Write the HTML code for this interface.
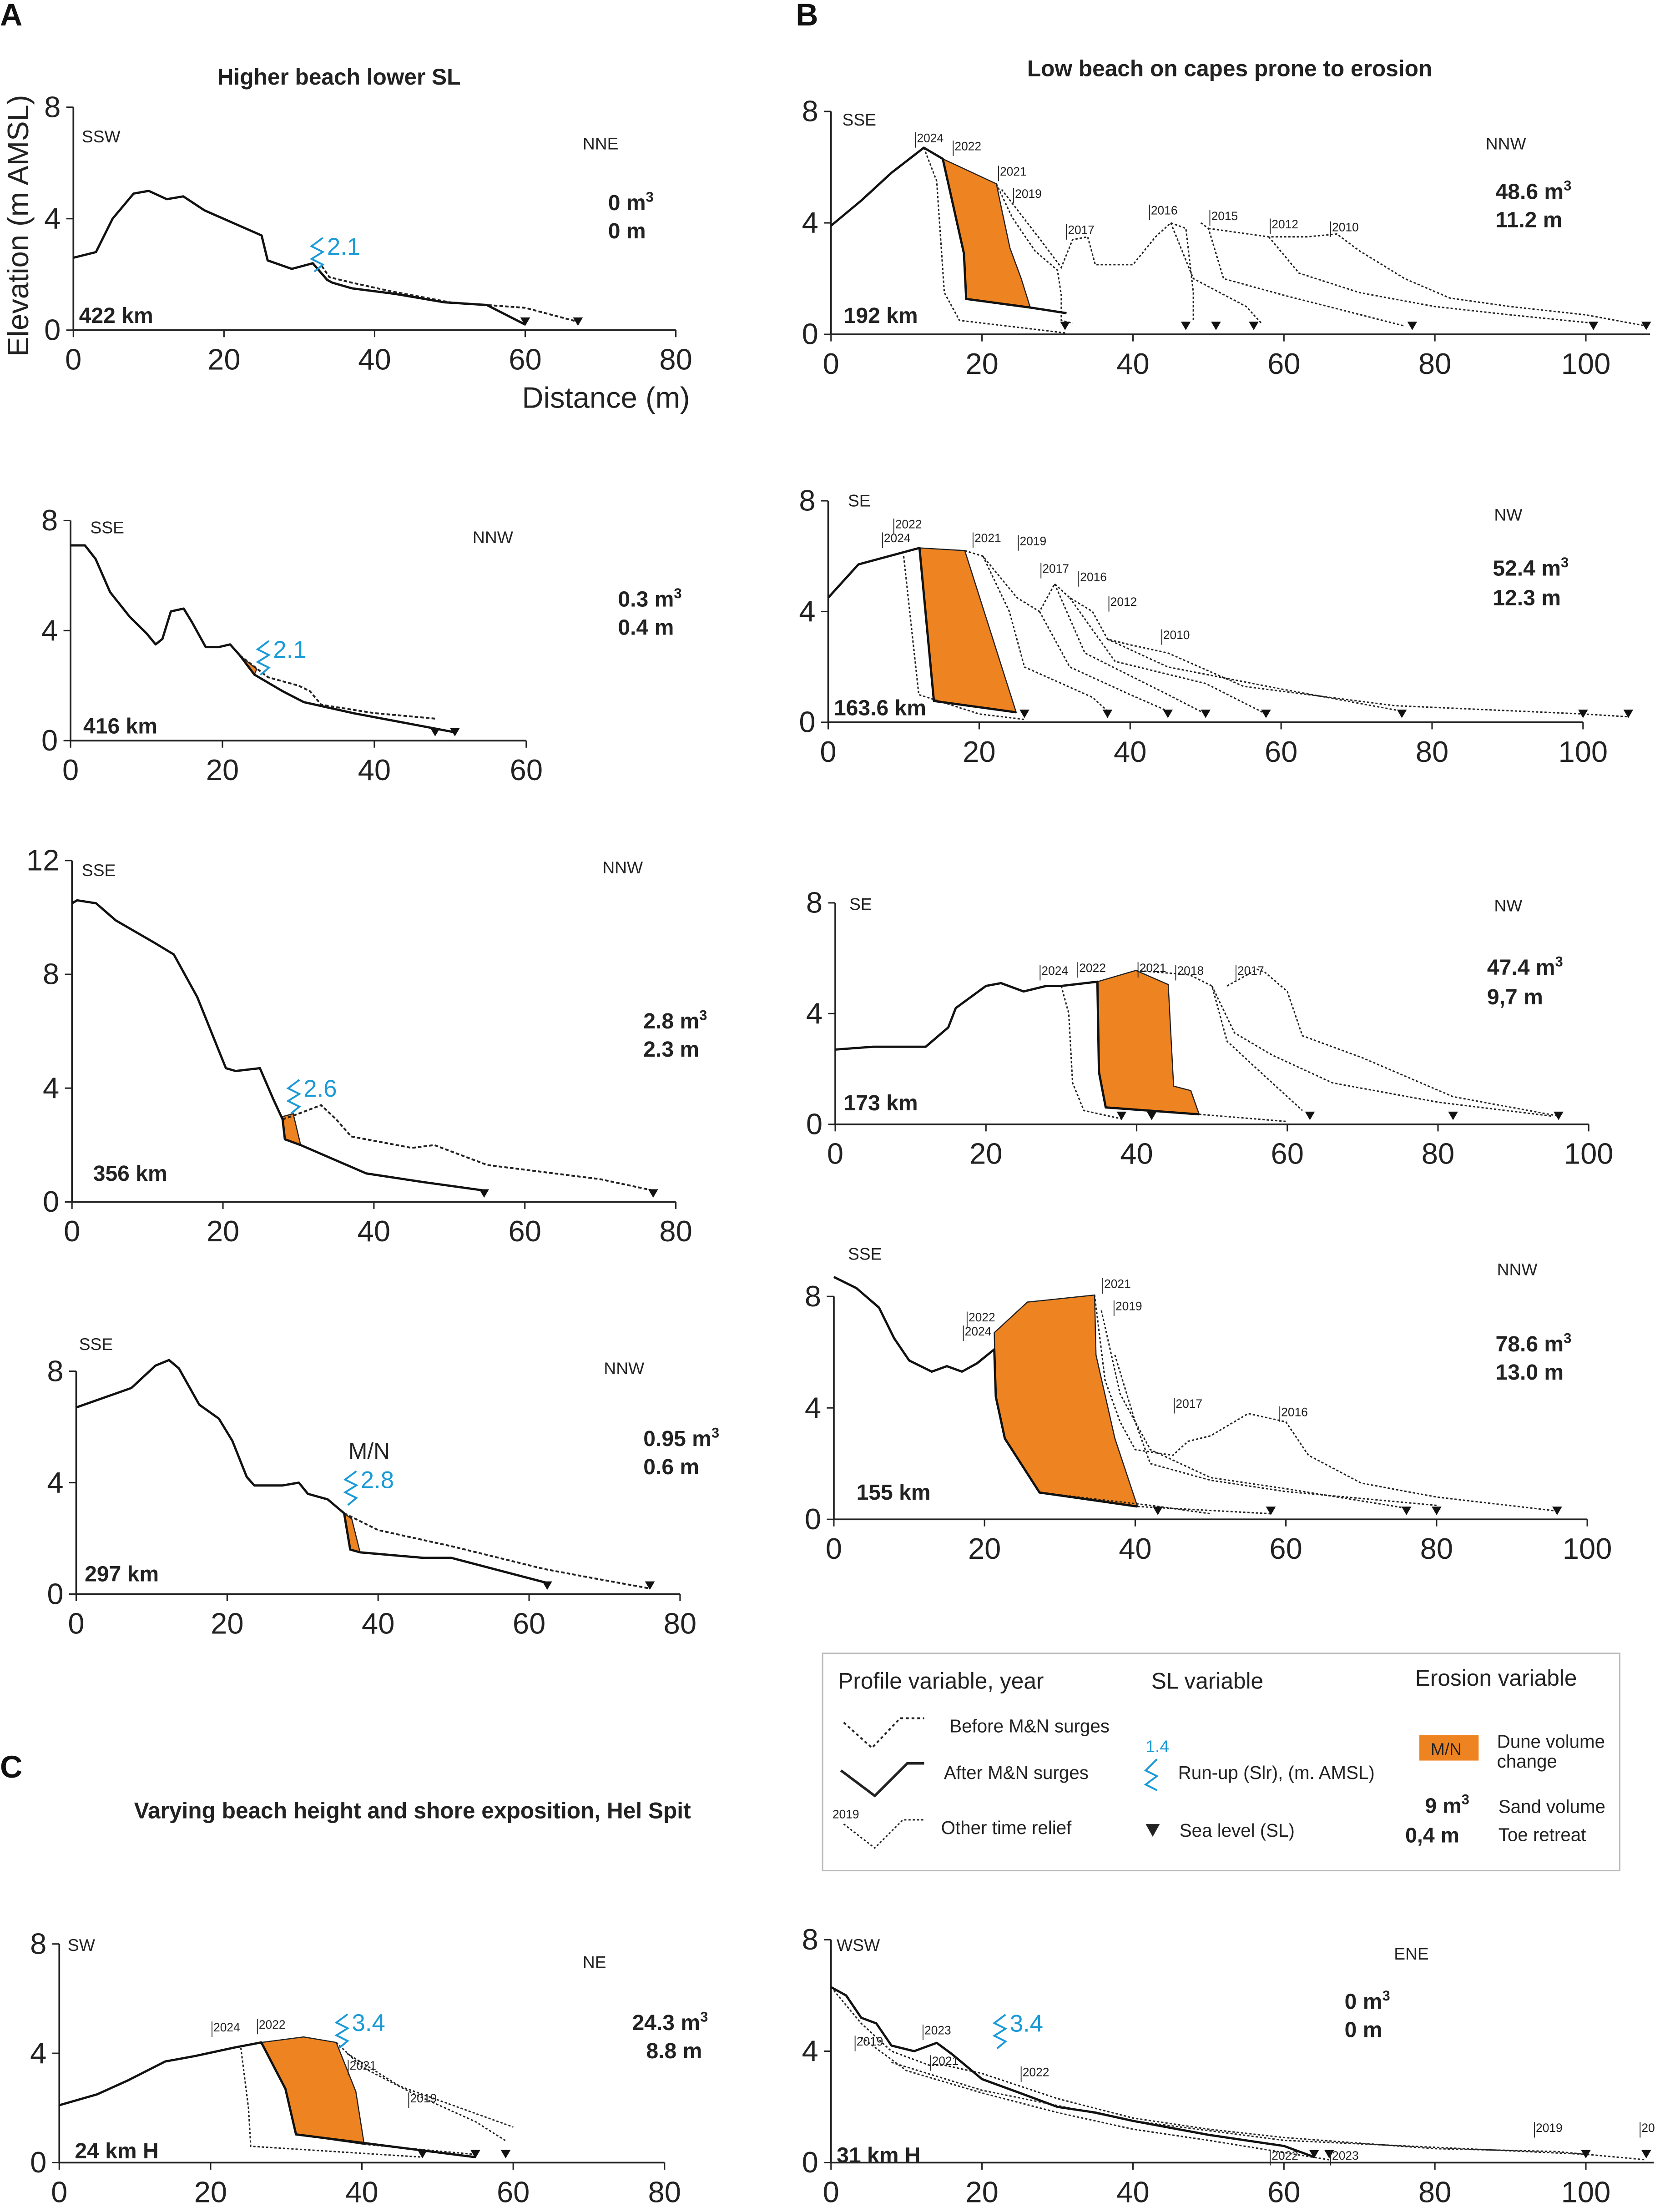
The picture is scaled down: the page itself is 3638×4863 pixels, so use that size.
<!DOCTYPE html>
<html><head><meta charset="utf-8"><style>
html,body{margin:0;padding:0;background:#fff;}
svg{display:block;}
text{font-family:"Liberation Sans",Arial,sans-serif;}
.t{font-size:21px;fill:#222;}
.b{font-size:15.5px;font-weight:bold;fill:#222;}
.d{font-size:12px;fill:#222;}
.y{font-size:8.5px;fill:#222;}
.ru{font-size:17px;fill:#1a9ad6;}
.h{font-size:22px;font-weight:bold;fill:#111;}
.ti{font-size:16px;font-weight:bold;fill:#222;}
</style></head><body>
<svg id="chart" width="3638" height="4863" viewBox="0 0 1173 1568" xmlns="http://www.w3.org/2000/svg">
<rect width="1173" height="1568" fill="#fff"/>
<g id="static">
<text class="h" x="0" y="18">A</text>
<text class="h" x="564" y="18">B</text>
<text class="h" x="0" y="1260">C</text>
<text class="ti" x="154" y="60">Higher beach lower SL</text>
<text class="ti" x="728" y="54">Low beach on capes prone to erosion</text>
<text class="ti" x="95" y="1289">Varying beach height and shore exposition, Hel Spit</text>
<text class="t" x="20" y="160" transform="rotate(-90 20 160)" text-anchor="middle">Elevation (m AMSL)</text>
<text class="t" x="370" y="289">Distance (m)</text>
<text class="d" x="58" y="101">SSW</text><text class="d" x="413" y="106">NNE</text>
<text class="d" x="64" y="378">SSE</text><text class="d" x="335" y="385">NNW</text>
<text class="d" x="58" y="621">SSE</text><text class="d" x="427" y="619">NNW</text>
<text class="d" x="56" y="957">SSE</text><text class="d" x="428" y="974">NNW</text>
<text class="d" x="597" y="89">SSE</text><text class="d" x="1053" y="106">NNW</text>
<text class="d" x="601" y="359">SE</text><text class="d" x="1059" y="369">NW</text>
<text class="d" x="602" y="645">SE</text><text class="d" x="1059" y="646">NW</text>
<text class="d" x="601" y="893">SSE</text><text class="d" x="1061" y="904">NNW</text>
<text class="d" x="48" y="1383">SW</text><text class="d" x="413" y="1395">NE</text>
<text class="d" x="593" y="1383">WSW</text><text class="d" x="988" y="1389">ENE</text>
<text class="b" x="56" y="229">422 km</text>
<text class="b" x="59" y="520">416 km</text>
<text class="b" x="66" y="837">356 km</text>
<text class="b" x="60" y="1121">297 km</text>
<text class="b" x="598" y="229">192 km</text>
<text class="b" x="591" y="507">163.6 km</text>
<text class="b" x="598" y="787">173 km</text>
<text class="b" x="607" y="1063">155 km</text>
<text class="b" x="53" y="1530">24 km H</text>
<text class="b" x="593" y="1533">31 km H</text>
<text class="b" x="431" y="149">0 m<tspan font-size="10" dy="-6">3</tspan></text><text class="b" x="431" y="169">0 m</text>
<text class="b" x="438" y="430">0.3 m<tspan font-size="10" dy="-6">3</tspan></text><text class="b" x="438" y="450">0.4 m</text>
<text class="b" x="456" y="729">2.8 m<tspan font-size="10" dy="-6">3</tspan></text><text class="b" x="456" y="749">2.3 m</text>
<text class="b" x="456" y="1025">0.95 m<tspan font-size="10" dy="-6">3</tspan></text><text class="b" x="456" y="1045">0.6  m</text>
<text class="b" x="1060" y="141">48.6 m<tspan font-size="10" dy="-6">3</tspan></text><text class="b" x="1060" y="161">11.2 m</text>
<text class="b" x="1058" y="408">52.4 m<tspan font-size="10" dy="-6">3</tspan></text><text class="b" x="1058" y="429">12.3 m</text>
<text class="b" x="1054" y="691">47.4 m<tspan font-size="10" dy="-6">3</tspan></text><text class="b" x="1054" y="712">9,7 m</text>
<text class="b" x="1060" y="958">78.6 m<tspan font-size="10" dy="-6">3</tspan></text><text class="b" x="1060" y="978">13.0 m</text>
<text class="b" x="448" y="1439">24.3 m<tspan font-size="10" dy="-6">3</tspan></text><text class="b" x="458" y="1459">8.8 m</text>
<text class="b" x="953" y="1424">0 m<tspan font-size="10" dy="-6">3</tspan></text><text class="b" x="953" y="1444">0 m</text>
<text x="247" y="1034" font-size="16" fill="#222">M/N</text>
<g>
<rect x="583" y="1172" width="565" height="154" fill="#fff" stroke="#bbb" stroke-width="1"/>
<text x="594" y="1197" font-size="16" fill="#222">Profile variable, year</text>
<text x="816" y="1197" font-size="16" fill="#222">SL variable</text>
<text x="1003" y="1195" font-size="16" fill="#222">Erosion variable</text>
<polyline points="598,1221 618,1239 638,1218 655,1218" fill="none" stroke="#222" stroke-width="1.3" stroke-dasharray="2,2"/>
<text x="673" y="1228" font-size="13" fill="#222">Before M&amp;N surges</text>
<polyline points="596,1255 620,1273 643,1250 655,1250" fill="none" stroke="#222" stroke-width="1.8"/>
<text x="669" y="1261" font-size="13" fill="#222">After M&amp;N surges</text>
<polyline points="598,1293 620,1310 640,1290 655,1290" fill="none" stroke="#222" stroke-width="1" stroke-dasharray="1.5,1.5"/>
<text class="y" x="590" y="1289">2019</text>
<text x="667" y="1300" font-size="13" fill="#222">Other time relief</text>
<text x="812" y="1242" font-size="12" fill="#1a9ad6">1.4</text>
<polyline points="820,1247 812,1255 820,1259 812,1265 820,1269" fill="none" stroke="#1a9ad6" stroke-width="1.3"/>
<text x="835" y="1261" font-size="13" fill="#222">Run-up (Slr), (m. AMSL)</text>
<polygon points="812,1293 822,1293 817,1302" fill="#222"/>
<text x="836" y="1302" font-size="13" fill="#222">Sea level (SL)</text>
<rect x="1006" y="1230" width="42" height="18" fill="#ee8421"/>
<text x="1014" y="1244" font-size="12" fill="#222">M/N</text>
<text x="1061" y="1239" font-size="13" fill="#222">Dune volume</text>
<text x="1061" y="1253" font-size="13" fill="#222">change</text>
<text x="1010" y="1285" font-size="15" font-weight="bold" fill="#222">9 m<tspan font-size="10" dy="-6">3</tspan></text>
<text x="1062" y="1285" font-size="13" fill="#222">Sand volume</text>
<text x="996" y="1306" font-size="15" font-weight="bold" fill="#222">0,4 m</text>
<text x="1062" y="1305" font-size="13" fill="#222">Toe retreat</text>
</g>
</g>
<g id="plots"></g>
</svg>
<script>
const a1After=[[0,2.6],[3,2.8],[5.2,4.0],[8,4.9],[10,5.0],[12.4,4.7],[14.6,4.8],[17.4,4.3],[25,3.4],[25.8,2.5],[29,2.2],[31.8,2.4],[33.7,1.8],[34.4,1.7],[37,1.5],[42.7,1.3],[49.3,1.0],[54.9,0.9],[60,0.2]];
const a1Before=[[33,2.3],[34,1.9],[37,1.7],[42,1.4],[50,1.0],[60,0.8],[67,0.3]];
const a1Sea=[60,67];
const a2After=[[0,7.1],[1.9,7.1],[3.3,6.6],[5.2,5.4],[7.8,4.5],[10,3.9],[11.2,3.5],[12.1,3.7],[13.2,4.7],[14.9,4.8],[16,4.3],[17.8,3.4],[19.5,3.4],[21,3.5],[22.3,3.1],[24.2,2.4],[27.9,1.8],[30.7,1.4],[37.2,1.0],[50.6,0.3]];
const a2Before=[[22.3,3.1],[26,2.3],[30,2.0],[31.5,1.8],[33,1.3],[40,1.0],[48,0.8]];
const a2Erosion=[[22.3,3.1],[24.5,2.6],[24.2,2.4]];
const a2Sea=[48,50.6];
const a3After=[[0,10.5],[0.7,10.6],[3.2,10.5],[5.8,9.9],[11,9.1],[13.5,8.7],[16.6,7.2],[20.4,4.7],[21.7,4.6],[24.9,4.7],[26.7,3.6],[27.9,2.9],[28.2,2.2],[30.3,2.0],[39,1.0],[46.5,0.7],[54.6,0.4]];
const a3Before=[[27.9,2.9],[30,3.1],[33,3.4],[35,2.9],[37,2.3],[45,1.9],[48,2.0],[55,1.3],[70,0.8],[77,0.4]];
const a3Erosion=[[27.9,3.0],[29.3,3.1],[30.3,2.0],[28.2,2.2]];
const a3Sea=[54.6,77];
const a4After=[[0,6.7],[7.3,7.4],[10.5,8.2],[12.3,8.4],[13.6,8.1],[16.3,6.8],[18.9,6.3],[20.7,5.5],[22.6,4.2],[23.6,3.9],[27.3,3.9],[29.5,4.0],[30.7,3.6],[32,3.5],[33.3,3.4],[35.5,2.9],[36.3,1.6],[37.6,1.5],[46,1.3],[49.7,1.3],[62.4,0.4]];
const a4Before=[[35.5,2.9],[40,2.3],[50,1.7],[62,0.9],[68,0.6],[76,0.2]];
const a4Erosion=[[35.5,2.9],[36.5,2.7],[37.6,1.5],[36.3,1.6]];
const a4Sea=[62.4,76];
const b1After=[[0,3.9],[4,4.8],[8,5.8],[12.3,6.7],[14.8,6.3],[17.6,2.9],[17.9,1.27],[26.4,0.96],[31.2,0.76]];
const b1Erosion=[[14.8,6.3],[21.9,5.4],[22.6,4.5],[23.7,3.1],[25.2,2.0],[26.4,0.96],[17.9,1.27],[17.6,2.9]];
const b1Other=[
 [[12.3,6.7],[14,5.5],[15,1.5],[17,0.5],[31,0.05]],
 [[21.9,5.4],[24,4.2],[27,3.0],[30,2.3],[30.5,1.4],[30.5,0.5],[32,0.4]],
 [[22.6,5.2],[28,3.3],[30.5,2.4],[32,3.4],[34,3.5],[35,2.5],[40,2.5],[43,3.5],[45,4.0],[47,3.8],[48,1.5],[48,0.5]],
 [[45,4.0],[48,2.0],[55,1.0],[57,0.4]],
 [[49,4.0],[50,3.8],[52,2.0],[60,1.4],[76,0.3]],
 [[50,3.8],[58,3.5],[63,3.5],[67,3.6],[70,3.0],[73,2.5],[76,2.0],[82,1.3],[90,1.0],[100,0.7],[108,0.3]],
 [[58,3.5],[62,2.2],[70,1.5],[80,1.0],[90,0.7],[101,0.4]]];
const b1Sea=[31,47,51,56,77,101,108];
const b2After=[[0,4.5],[4,5.7],[12.1,6.3],[14,0.77],[24.9,0.36]];
const b2Erosion=[[12.1,6.3],[18.1,6.2],[24.9,0.36],[14,0.77]];
const b2Other=[
 [[10,6.0],[12,1.0],[20,0.3],[26,0.1]],
 [[18.1,6.2],[20.5,6.0],[22,5.5],[25,4.5],[28,4.0],[30,5.0],[32,4.5],[35,4.0],[37,3.0],[40,2.8],[45,2.5],[55,1.3],[75,0.6],[100,0.3],[106,0.2]],
 [[20.5,6.0],[24,4.0],[26,2.0],[35,0.9],[37,0.4]],
 [[28,4.0],[32,2.0],[40,1.0],[45,0.4]],
 [[30,5.0],[34,2.5],[45,1.0],[50,0.3]],
 [[37,3.0],[45,2.0],[60,1.2],[76,0.4]],
 [[32,4.5],[38,2.2],[50,1.4],[58,0.3]]];
const b2Sea=[26,37,45,50,58,76,100,106];
const b3After=[[0,2.7],[5,2.8],[12,2.8],[15,3.5],[16,4.2],[20,5.0],[22,5.1],[25,4.8],[28,5.0],[30,5.0],[34.8,5.15],[35,1.89],[35.9,0.61],[48.3,0.36]];
const b3Erosion=[[34.8,5.15],[39.9,5.56],[44.2,5.05],[44.9,1.38],[47.2,1.22],[48.3,0.36],[35.9,0.61],[35,1.89]];
const b3Other=[
 [[30,5.0],[31,4.0],[31.5,1.5],[33,0.5],[38,0.2]],
 [[39.9,5.56],[47,5.4],[50,5.0],[52,3.0],[56,2.0],[62,0.5]],
 [[52,5.0],[56,5.6],[57,5.5],[60,4.8],[62,3.2],[70,2.4],[82,1.0],[96,0.3]],
 [[50,5.0],[53,3.3],[58,2.5],[66,1.5],[80,0.8],[95,0.3]],
 [[48.3,0.36],[60,0.1]]];
const b3Sea=[38,42,63,82,96];
const b4After=[[0,8.7],[3,8.3],[6,7.6],[8,6.5],[10,5.7],[13,5.3],[15,5.5],[17,5.3],[19,5.6],[21.3,6.1],[21.5,4.4],[22.7,2.9],[27.3,0.96],[40.3,0.46]];
const b4Erosion=[[21.3,6.7],[25.7,7.8],[34.6,8.05],[34.8,5.9],[37.3,2.9],[40.3,0.46],[27.3,0.96],[22.7,2.9],[21.5,4.4]];
const b4Other=[
 [[34.6,8.05],[36,5.0],[38,3.5],[40,2.5],[45,2.3],[47,2.8],[50,3.0],[55,3.8],[60,3.5],[63,2.3],[70,1.3],[80,0.8],[96,0.3]],
 [[35.5,7.5],[38,4.5],[42,2.5],[50,1.5],[60,1.1],[76,0.4]],
 [[37.3,5.9],[40,3.5],[42,2.0],[50,1.4],[60,1.0],[80,0.5]],
 [[27.3,0.96],[42,0.5],[50,0.2]],
 [[40.3,0.46],[58,0.2]]];
const b4Sea=[43,58,76,80,96];
const c1After=[[0,2.1],[5,2.5],[9,3.0],[14,3.7],[18,3.9],[23,4.2],[26.7,4.4],[29.9,2.7],[31.3,1.03],[55,0.2]];
const c1Erosion=[[26.7,4.4],[32.3,4.6],[36.6,4.4],[39.2,2.6],[40.3,0.67],[31.3,1.03],[29.9,2.7]];
const c1Other=[
 [[24,4.2],[25,2.0],[25.3,0.6],[48,0.2]],
 [[36.6,4.4],[40,3.5],[47,2.5],[55,1.5],[59,0.8]],
 [[38,4.0],[45,2.8],[60,1.3]],
 [[40.3,0.67],[55,0.3]]];
const c1Sea=[48,55,59];
const c2After=[[0,6.3],[2,6.0],[4,5.2],[6,5.0],[8,4.2],[11,4.0],[14,4.3],[16,3.9],[20,3.0],[25,2.5],[30,2.0],[35,1.8],[40,1.5],[50,1.0],[60,0.6],[64,0.2]];
const c2Other=[
 [[0,6.3],[4,5.0],[8,4.0],[13,3.5],[15,3.5],[20,3.2],[30,2.3],[40,1.6],[50,1.2],[60,0.9],[70,0.7],[80,0.5],[96,0.4],[100,0.3],[108,0.1]],
 [[4,4.5],[10,3.3],[20,2.5],[30,1.8],[40,1.2],[50,0.8],[66,0.1]],
 [[8,3.6],[20,2.6],[40,1.5],[60,0.8],[100,0.3]]];
const c2Sea=[64,66,100,108];
const xTicks80=[0,20,40,60,80], xTicks60=[0,20,40,60], xTicks100=[0,20,40,60,80,100];
const yTicks8=[0,4,8], yTicks12=[0,4,8,12];

const panels=[
 {id:'a1',ox:52,oy:234,w:427,xmax:80,h:158,ymax:8,xt:xTicks80,yt:yTicks8,after:a1After,before:a1Before,sea:a1Sea,ru:[32,2.3,'2.1']},
 {id:'a2',ox:50,oy:525,w:323,xmax:60,h:156,ymax:8,xt:xTicks60,yt:yTicks8,after:a2After,before:a2Before,er:a2Erosion,sea:a2Sea,ru:[25,2.6,'2.1']},
 {id:'a3',ox:51,oy:852,w:428,xmax:80,h:242,ymax:12,xt:xTicks80,yt:yTicks12,after:a3After,before:a3Before,er:a3Erosion,sea:a3Sea,ru:[29,3.3,'2.6']},
 {id:'a4',ox:54,oy:1130,w:428,xmax:80,h:158,ymax:8,xt:xTicks80,yt:yTicks8,after:a4After,before:a4Before,er:a4Erosion,sea:a4Sea,ru:[36,3.4,'2.8']},
 {id:'b1',ox:589,oy:237,w:535,xmax:100,axEnd:108.5,h:158,ymax:8,xt:xTicks100,yt:yTicks8,after:b1After,er:b1Erosion,other:b1Other,sea:b1Sea,
  yrs:[[11,6.8,'2024'],[16,6.5,'2022'],[22,5.6,'2021'],[24,4.8,'2019'],[31,3.5,'2017'],[42,4.2,'2016'],[50,4.0,'2015'],[58,3.7,'2012'],[66,3.6,'2010']]},
 {id:'b2',ox:587,oy:512,w:535,xmax:100,h:157,ymax:8,xt:xTicks100,yt:yTicks8,after:b2After,er:b2Erosion,other:b2Other,sea:b2Sea,
  yrs:[[7,6.4,'2024'],[8.5,6.9,'2022'],[19,6.4,'2021'],[25,6.3,'2019'],[28,5.3,'2017'],[33,5.0,'2016'],[37,4.1,'2012'],[44,2.9,'2010']]},
 {id:'b3',ox:592,oy:797,w:534,xmax:100,h:157,ymax:8,xt:xTicks100,yt:yTicks8,after:b3After,er:b3Erosion,other:b3Other,sea:b3Sea,
  yrs:[[27,5.3,'2024'],[32,5.4,'2022'],[40,5.4,'2021'],[45,5.3,'2018'],[53,5.3,'2017']]},
 {id:'b4',ox:591,oy:1077,w:534,xmax:100,h:158,ymax:8,xt:xTicks100,yt:yTicks8,after:b4After,er:b4Erosion,other:b4Other,sea:b4Sea,
  yrs:[[17,6.5,'2024'],[17.5,7.0,'2022'],[35.5,8.2,'2021'],[37,7.4,'2019'],[45,3.9,'2017'],[59,3.6,'2016']]},
 {id:'c1',ox:42,oy:1533,w:429,xmax:80,h:155,ymax:8,xt:xTicks80,yt:yTicks8,after:c1After,er:c1Erosion,other:c1Other,sea:c1Sea,ru:[37,4.4,'3.4'],
  yrs:[[20,4.7,'2024'],[26,4.8,'2022'],[38,3.3,'2021'],[46,2.1,'2019']]},
 {id:'c2',ox:589,oy:1533,w:535,xmax:100,axEnd:109,h:158,ymax:8,xt:xTicks100,yt:yTicks8,after:c2After,other:c2Other,sea:c2Sea,ru:[22,4.3,'3.4'],
  yrs:[[3,4.1,'2019'],[12,4.5,'2023'],[13,3.4,'2021'],[25,3.0,'2022'],[58,0.0,'2022'],[66,0.0,'2023'],[93,1.0,'2019'],[107,1.0,'2021']]}
];
const NS='http://www.w3.org/2000/svg';
const root=document.getElementById('plots');
function mk(tag,attrs,parent){const e=document.createElementNS(NS,tag);for(const k in attrs)e.setAttribute(k,attrs[k]);parent.appendChild(e);return e;}
panels.forEach(p=>{
 const X=v=>p.ox+v*p.w/p.xmax, Y=v=>p.oy-v*p.h/p.ymax;
 const pts=d=>d.map(q=>X(q[0]).toFixed(1)+','+Y(q[1]).toFixed(1)).join(' ');
 const g=mk('g',{},root);
 
 
 const ax=mk('path',{d:`M${p.ox},${Y(p.ymax)} V${p.oy} H${X(p.axEnd||p.xmax)}`,fill:'none',stroke:'#222','stroke-width':1.2},g);
 
 
 p.xt.forEach(t=>{
  mk('line',{x1:X(t),x2:X(t),y1:p.oy,y2:p.oy+5,stroke:'#222'},g);
  const tx=mk('text',{x:X(t),y:p.oy+28,'text-anchor':'middle',class:'t'},g);tx.textContent=t;
  
  
 });
 p.yt.forEach(t=>{
  mk('line',{x1:p.ox-5,x2:p.ox,y1:Y(t),y2:Y(t),stroke:'#222'},g);
  const tx=mk('text',{x:p.ox-9,y:Y(t)+7,'text-anchor':'end',class:'t'},g);tx.textContent=t;
  
  
 });
 if(p.er){const e=mk('polygon',{points:pts(p.er),fill:'#ee8421',stroke:'#222','stroke-width':0.8},g);
  
  }
 (p.other||[]).forEach(d=>{const l=mk('polyline',{points:pts(d),fill:'none',stroke:'#222','stroke-width':1,'stroke-dasharray':'1.6,1.4'},g);
  
  });
 if(p.before){const l=mk('polyline',{points:pts(p.before),fill:'none',stroke:'#222','stroke-width':1.3,'stroke-dasharray':'2.5,1.5'},g);
  
  }
 const la=mk('polyline',{points:pts(p.after),fill:'none',stroke:'#111','stroke-width':1.6,'stroke-linejoin':'round'},g);
 
 
 p.sea.forEach(s=>{const x=X(s),y=Y(0)-4;
  const t=mk('polygon',{points:`${x-3.5},${y-5} ${x+3.5},${y-5} ${x},${y+1}`,fill:'#111'},g);
  
  });
 (p.yrs||[]).forEach(r=>{const x=X(r[0]),y=Y(r[1]);
  mk('line',{x1:x+1,x2:x+1,y1:y-9,y2:y+2,stroke:'#222','stroke-width':0.6},g);
  const tx=mk('text',{x:x+2,y:y-2,class:'y'},g);tx.textContent=r[2];
  
  });
 if(p.ru){const x=X(p.ru[0]),y=Y(p.ru[1]);
  const z=mk('polyline',{points:`${x+6},${y-20} ${x-2},${y-14} ${x+6},${y-10} ${x-2},${y-5} ${x+6},${y-1} ${x},${y+4}`,fill:'none',stroke:'#1a9ad6','stroke-width':1.3},g);
  
  
  const tx=mk('text',{x:x+9,y:y-8,class:'ru'},g);tx.textContent=p.ru[2];
  
  }
});
</script>
</body></html>
